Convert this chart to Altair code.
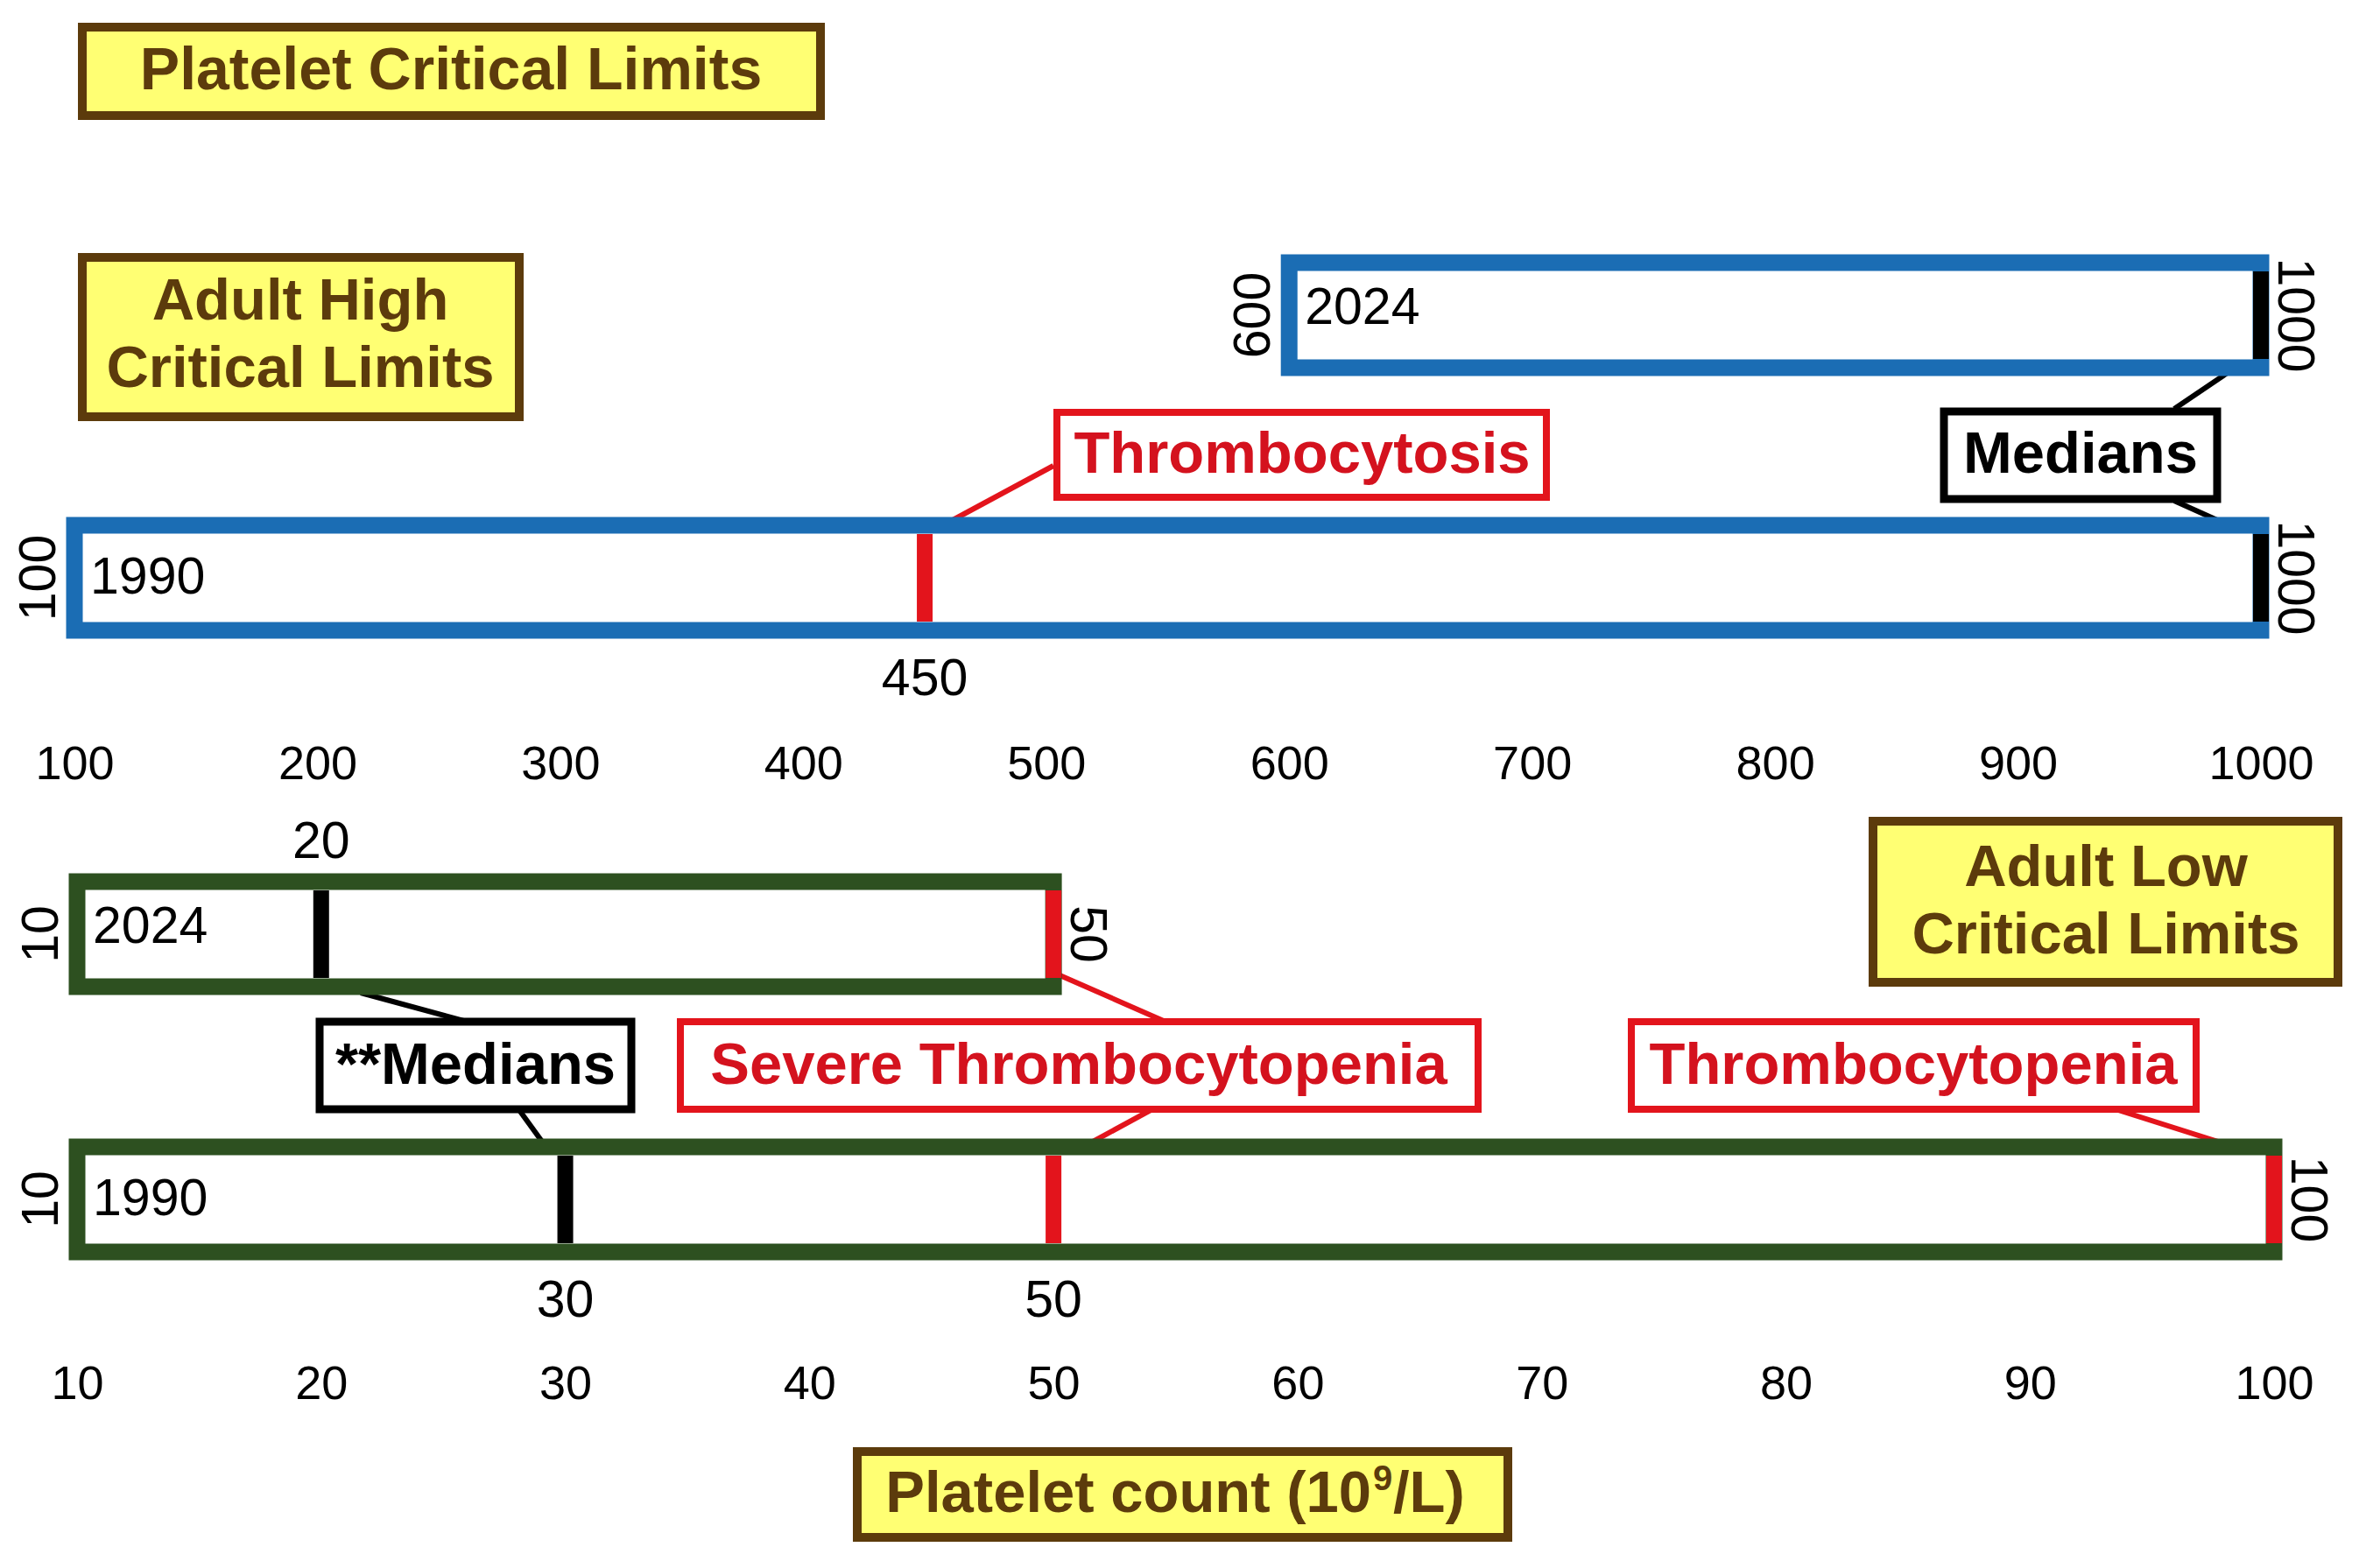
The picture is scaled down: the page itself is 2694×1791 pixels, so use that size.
import altair as alt
import pandas as pd

# ---------------- data ----------------
high_years = ["2024", "1990"]
high_from = [600, 100]
high_to = [1000, 1000]
high_marker_year = ["2024", "1990", "1990"]
high_marker_value = [1000, 450, 1000]
high_marker_kind = ["median", "critical", "median"]
high_label_year = ["2024", "2024", "1990", "1990", "1990"]
high_label_value = [600, 1000, 100, 1000, 450]
high_label_side = ["left", "right", "left", "right", "below"]
high_ticks = [100, 200, 300, 400, 500, 600, 700, 800, 900, 1000]

low_years = ["2024", "1990"]
low_from = [10, 10]
low_to = [50, 100]
low_marker_year = ["2024", "2024", "1990", "1990", "1990"]
low_marker_value = [20, 50, 30, 50, 100]
low_marker_kind = ["median", "critical", "median", "critical", "critical"]
low_label_year = ["2024", "2024", "2024", "1990", "1990", "1990", "1990"]
low_label_value = [10, 50, 20, 10, 100, 30, 50]
low_label_side = ["left", "right", "above", "left", "right", "below", "below"]
low_ticks = [10, 20, 30, 40, 50, 60, 70, 80, 90, 100]

# ---------------- layout / style ----------------
FONT = "Liberation Sans"
BLUE = "#1b6db4"
GREEN = "#2d5020"
RED = "#e3141c"
RED_TXT = "#d4121e"
BROWN = "#5c3b0c"
YELLOW = "#ffff73"
W = 2678
PANEL_A = (8, 840)
PANEL_B = (840, 1540)
PANEL_C = (1540, 1783)
HIGH_ROWS = {"2024": 360, "1990": 660}
LOW_ROWS = {"2024": 1067, "1990": 1370}
YEAR_DY = {"2024": -8, "1990": 0}
ONE = pd.DataFrame({"k": [0]})


def px_rect(x1, y1, x2, y2, top, fill, stroke, sw):
    return alt.Chart(ONE).mark_rect(fill=fill, stroke=stroke, strokeWidth=sw).encode(
        x=alt.value(x1 - 8), x2=alt.value(x2 - 8),
        y=alt.value(y1 - top), y2=alt.value(y2 - top))


def px_text(text, x, y, top, color, size=67, lh=77, align="center"):
    if isinstance(text, list):
        y = y - lh * (len(text) - 1) / 2
    return alt.Chart(ONE).mark_text(
        text=text, font=FONT, fontWeight="bold", fontSize=size, color=color,
        align=align, baseline="middle", lineHeight=lh).encode(
        x=alt.value(x - 8), y=alt.value(y - top))


def px_line(x1, y1, x2, y2, top, color, sw=6):
    return alt.Chart(ONE).mark_rule(color=color, strokeWidth=sw).encode(
        x=alt.value(x1 - 8), x2=alt.value(x2 - 8),
        y=alt.value(y1 - top), y2=alt.value(y2 - top))


def data_panel(years, lo, hi, mk_year, mk_val, mk_kind, lb_year, lb_val, lb_side,
               rows, color, xdomain, xrange, ticks, panel, axis_pad):
    top, bottom = panel
    yscale = alt.Scale(domain=[top, bottom], range=[0, bottom - top], nice=False, zero=False)
    xscale = alt.Scale(domain=xdomain, range=xrange, nice=False, zero=False)
    xaxis = alt.Axis(values=ticks, format="d", labelFont=FONT, labelFontSize=54,
                     labelColor="black", domain=False, ticks=False, tickSize=0,
                     grid=False, labelPadding=axis_pad, labelBaseline="middle",
                     labelFlush=False, labelOverlap=False)

    def X(f):
        return alt.X(f + ":Q", scale=xscale, axis=xaxis, title=None)

    def Y(f):
        return alt.Y(f + ":Q", scale=yscale, axis=None)

    bars = pd.DataFrame({"year": years, "from": lo, "to": hi})
    bars["yc"] = bars["year"].map(rows)
    bars["y1"] = bars["yc"] - 60
    bars["y2"] = bars["yc"] + 60
    bars["ty"] = bars["yc"] + bars["year"].map(YEAR_DY)

    mk = pd.DataFrame({"year": mk_year, "value": mk_val, "kind": mk_kind})
    mk["y1"] = mk["year"].map(rows) - 50
    mk["y2"] = mk["year"].map(rows) + 50

    lb = pd.DataFrame({"year": lb_year, "value": lb_val, "side": lb_side})
    lb["yc"] = lb["year"].map(rows)
    lb["label"] = lb["value"].astype(str)

    bar_layer = alt.Chart(bars).mark_rect(fill="white", stroke=color, strokeWidth=19).encode(
        x=X("from"), x2="to", y=Y("y1"), y2="y2")
    year_layer = alt.Chart(bars).mark_text(
        align="left", baseline="middle", font=FONT, fontSize=59, color="black", dx=18).encode(
        x=X("from"), y=Y("ty"), text="year:N")
    mk_layer = alt.Chart(mk).mark_rule(strokeWidth=18).encode(
        x=X("value"), y=Y("y1"), y2="y2",
        color=alt.Color("kind:N", scale=alt.Scale(domain=["median", "critical"],
                                                   range=["#000000", RED]), legend=None))

    layers = [bar_layer, mk_layer, year_layer]
    side_cfg = {
        "left": dict(angle=270, dy=-40, off=0),
        "right": dict(angle=90, dy=-38, off=0),
        "below": dict(angle=0, dy=0, off=116),
        "above": dict(angle=0, dy=0, off=-105),
    }
    for side, cfg in side_cfg.items():
        sub = lb[lb["side"] == side].copy()
        if sub.empty:
            continue
        sub["ly"] = sub["yc"] + cfg["off"]
        layers.append(alt.Chart(sub).mark_text(
            align="center", baseline="middle", font=FONT, fontSize=59, color="black",
            angle=cfg["angle"], dy=cfg["dy"]).encode(
            x=X("value"), y=Y("ly"), text="label:N"))
    return layers


# ---------------- panel A: high limits ----------------
tA = PANEL_A[0]
annA = [
    px_line(1203, 532, 1088, 594, tA, RED),
    px_line(2483, 467, 2545, 425, tA, "black"),
    px_line(2483, 572, 2532, 594, tA, "black"),
]
boxesA = [
    px_rect(94, 31, 937, 132, tA, YELLOW, BROWN, 10),
    px_text("Platelet Critical Limits", 515, 82, tA, BROWN, size=68),
    px_rect(94, 294, 593, 476, tA, YELLOW, BROWN, 10),
    px_text(["Adult High", "Critical Limits"], 343, 383, tA, BROWN),
    px_rect(1207, 471, 1766, 568, tA, "white", RED, 8),
    px_text("Thrombocytosis", 1487, 520, tA, RED_TXT),
    px_rect(2220, 470, 2532, 570, tA, "white", "black", 9),
    px_text("Medians", 2376, 520, tA, "black"),
]
layersA = annA + data_panel(
    high_years, high_from, high_to, high_marker_year, high_marker_value, high_marker_kind,
    high_label_year, high_label_value, high_label_side, HIGH_ROWS, BLUE,
    [100, 1000], [77, 2574], high_ticks, PANEL_A, 873 - PANEL_A[1]) + boxesA
panelA = alt.layer(*layersA).properties(width=W, height=PANEL_A[1] - PANEL_A[0])

# ---------------- panel B: low limits ----------------
tB = PANEL_B[0]
annB = [
    px_line(412, 1134, 533, 1167, tB, "black"),
    px_line(593, 1268, 622, 1308, tB, "black"),
    px_line(1208, 1113, 1331, 1167, tB, RED),
    px_line(1314, 1268, 1237, 1310, tB, RED),
    px_line(2419, 1268, 2590, 1322, tB, RED),
]
boxesB = [
    px_rect(2139, 938, 2670, 1122, tB, YELLOW, BROWN, 10),
    px_text(["Adult Low", "Critical Limits"], 2405, 1030, tB, BROWN),
    px_rect(365, 1167, 721, 1267, tB, "white", "black", 9),
    px_text("**Medians", 543, 1218, tB, "black"),
    px_rect(777, 1167, 1688, 1267, tB, "white", RED, 8),
    px_text("Severe Thrombocytopenia", 1232, 1218, tB, RED_TXT),
    px_rect(1863, 1167, 2508, 1267, tB, "white", RED, 8),
    px_text("Thrombocytopenia", 2185, 1218, tB, RED_TXT),
]
layersB = annB + data_panel(
    low_years, low_from, low_to, low_marker_year, low_marker_value, low_marker_kind,
    low_label_year, low_label_value, low_label_side, LOW_ROWS, GREEN,
    [10, 100], [80, 2589], low_ticks, PANEL_B, 1581 - PANEL_B[1]) + boxesB
panelB = alt.layer(*layersB).properties(width=W, height=PANEL_B[1] - PANEL_B[0])

# ---------------- panel C: axis title box ----------------
tC = PANEL_C[0]
panelC = alt.layer(
    px_rect(979, 1658, 1722, 1756, tC, YELLOW, BROWN, 10),
    px_text("Platelet count (10", 1566, 1707, tC, BROWN, align="right"),
    px_text("9", 1568, 1690, tC, BROWN, size=40, align="left"),
    px_text("/L)", 1591, 1707, tC, BROWN, align="left"),
).properties(width=W, height=PANEL_C[1] - PANEL_C[0])

chart = alt.vconcat(panelA, panelB, panelC, spacing=0, bounds="flush").properties(
    padding=0, background="white"
).configure_view(strokeWidth=0)

chart.save("out.html", embed_options={"renderer": "svg", "actions": False})
